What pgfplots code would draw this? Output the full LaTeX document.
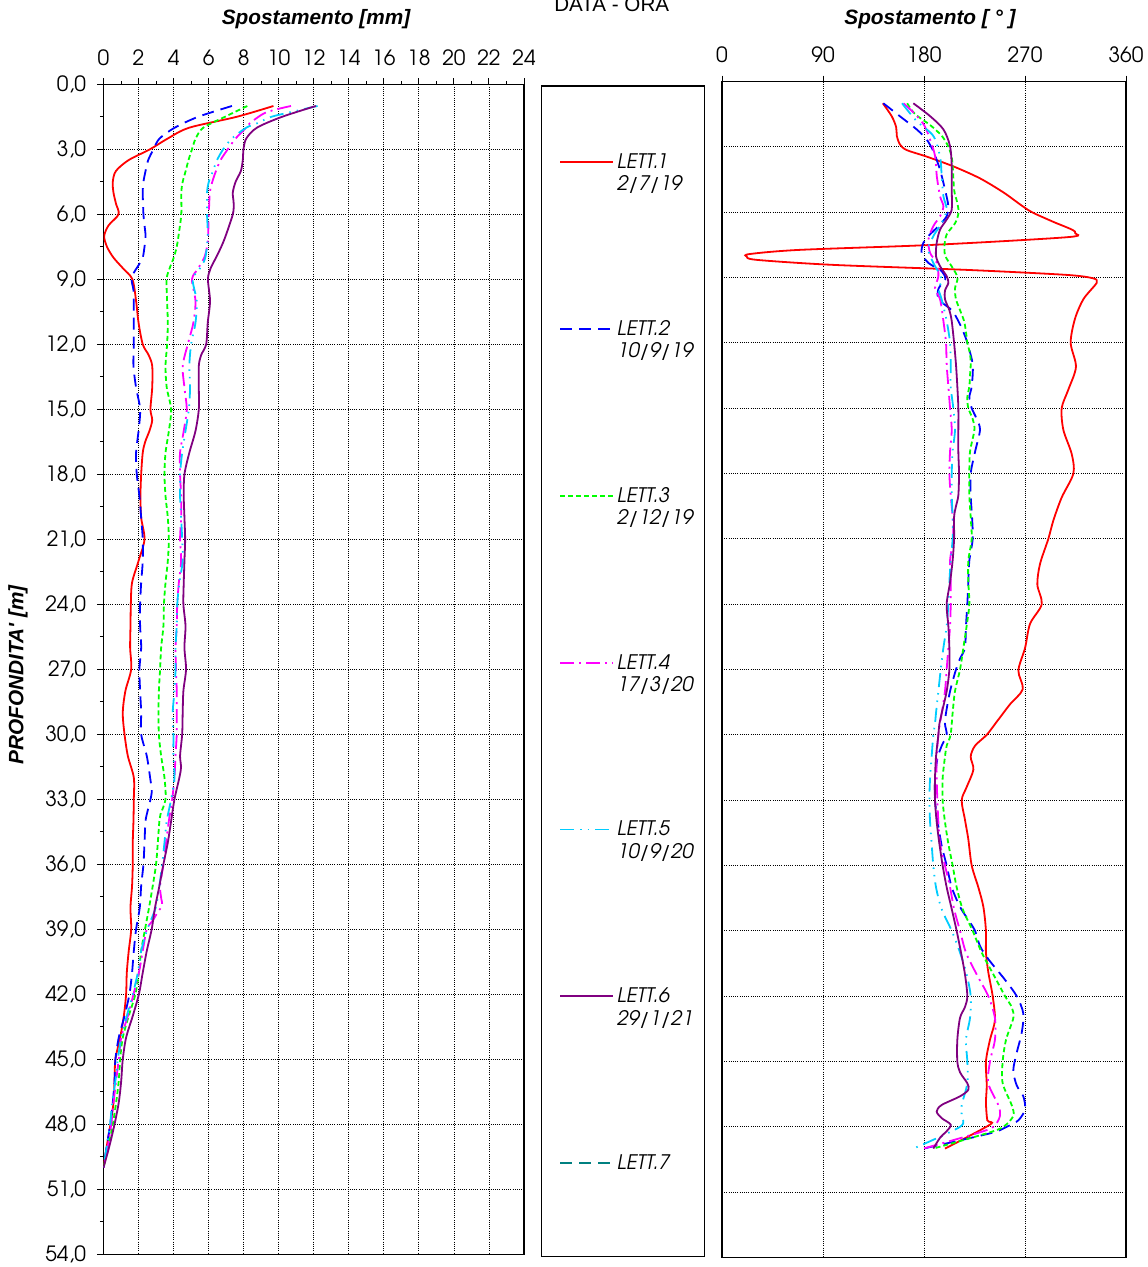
\documentclass[border=0pt]{standalone}
\usepackage{fontspec}
\setmainfont{TeX Gyre Adventor}
\newfontfamily\arialf{Liberation Sans}
\usepackage{pgfplots}
\pgfplotsset{compat=1.18}

\definecolor{cRed}{RGB}{255,0,0}
\definecolor{cBlue}{RGB}{0,0,255}
\definecolor{cGreen}{RGB}{0,255,0}
\definecolor{cMag}{RGB}{255,0,255}
\definecolor{cCyan}{RGB}{0,204,255}
\definecolor{cPurp}{RGB}{128,0,128}
\definecolor{cTeal}{RGB}{0,128,128}

\tikzset{
  lett1/.style={cRed, line width=1.8bp, solid},
  lett2/.style={cBlue, line width=1.8bp, dash pattern=on 12bp off 7bp},
  lett3/.style={cGreen, line width=1.8bp, dash pattern=on 5bp off 3bp},
  lett4/.style={cMag, line width=1.8bp, dash pattern=on 14bp off 5bp on 2bp off 5bp},
  lett5/.style={cCyan, line width=1.8bp, dash pattern=on 14bp off 6bp on 1.5bp off 6bp on 1.5bp off 6bp},
  lett6/.style={cPurp, line width=1.8bp, solid},
  lett7/.style={cTeal, line width=1.8bp, dash pattern=on 12bp off 7bp},
}

\newcommand\tickfont{\fontsize{21bp}{24bp}\selectfont}
\newcommand\legfont{\fontsize{20bp}{22bp}\selectfont\itshape}
\newcommand\titfont{\arialf\bfseries\itshape\fontsize{20.8bp}{24bp}\selectfont}
\newcommand\legtwo[2]{\rlap{\smash{\raisebox{-22.5bp}{#2}}}#1}

\pgfplotsset{
  profile/.style={
    scale only axis, y dir=reverse, ymin=0, ymax=54,
    ytick={0,3,...,54},
    tick align=outside,
    axis line style={black, line width=1.4bp},
    every tick/.style={black, line width=1bp},
    major tick length=6bp, minor tick length=3.5bp,
    grid=major,
    major grid style={black, line width=0.8bp, dash pattern=on 1bp off 1.2bp},
    /pgf/number format/assume math mode=true,
    tick label style={font=\tickfont},
    xticklabel style={yshift=9bp},
    yticklabel style={xshift=-8bp},
    xtick pos=right, xticklabel pos=right,
    ytick pos=left,
    every axis plot/.append style={smooth, tension=0.5},
  },
}

\begin{document}
\begin{tikzpicture}
\useasboundingbox (0,0) rectangle (1148bp,-1267bp);

% ---------------- left panel: displacement ----------------
\begin{axis}[profile,
  at={(103.5bp,-84.3bp)}, anchor=north west,
  width=420.5bp, height=1170bp,
  xmin=0, xmax=24, xtick={0,2,...,24},
  minor x tick num=1, minor y tick num=1,
  y tick label style={/pgf/number format/.cd, fixed, fixed zerofill, precision=1, use comma},
  xlabel={Spostamento [mm]}, ylabel={PROFONDITA' [m]},
  every axis x label/.style={at={(axis description cs:0.5054,1.0515)}, anchor=base, font=\titfont},
  every axis y label/.style={at={(axis description cs:-0.2033,0.4951)}, anchor=center, rotate=90, font=\titfont},
]
\addplot[lett1] coordinates {(9.7,1.0) (7.6,1.5) (4.9,2.0) (3.67,2.5) (2.65,3.0) (1.43,3.5) (0.71,4.0) (0.53,4.5) (0.57,5.0) (0.71,5.5) (0.86,6.0) (0.3,6.5) (0.04,7.0) (0.2,7.5) (0.57,8.0) (1.12,8.5) (1.65,9.0) (1.86,10) (2.0,11) (2.24,12) (2.58,12.5) (2.78,13) (2.78,14) (2.68,15) (2.78,15.5) (2.62,16) (2.38,16.5) (2.24,17) (2.15,18) (2.11,19) (2.15,20) (2.34,21) (2.0,22) (1.63,23) (1.56,24) (1.54,25) (1.52,26) (1.58,27) (1.25,28) (1.10,29) (1.20,30) (1.39,31) (1.73,32) (1.73,33) (1.71,34) (1.67,35) (1.67,36) (1.63,37) (1.54,38) (1.58,39) (1.44,40) (1.33,41) (1.29,42) (1.16,43) (0.95,44) (0.68,45) (0.63,46) (0.57,47) (0.40,48) (0.19,49) (0,50)};
\addplot[lett2] coordinates {(7.33,1.0) (5.4,1.5) (4.07,2.0) (3.2,2.5) (2.85,3.0) (2.55,3.5) (2.4,4.0) (2.28,4.5) (2.24,5.0) (2.28,6.0) (2.34,6.5) (2.4,7.0) (2.34,7.5) (2.24,8.0) (2.04,8.3) (1.73,8.7) (1.6,9.0) (1.71,9.5) (1.73,10) (1.73,11) (1.73,12) (1.71,13) (1.86,14) (2.09,15) (2.0,16) (1.86,17) (1.90,18) (2.05,19) (2.15,20) (2.24,21) (2.24,22) (2.15,23) (2.09,24) (2.09,25) (2.15,26) (2.05,27) (2.09,28) (2.15,29) (2.15,30) (2.47,31) (2.66,32) (2.75,32.7) (2.53,33.5) (2.40,34) (2.34,35) (2.28,36) (2.15,37) (2.07,38) (1.86,39) (1.73,40) (1.63,41) (1.48,42) (1.20,43) (0.87,44) (0.68,45) (0.63,46) (0.53,47) (0.38,48) (0.19,49) (0,50)};
\addplot[lett3] coordinates {(8.21,1.0) (6.93,1.5) (5.7,2.0) (5.26,2.5) (5.05,3.0) (4.85,3.5) (4.69,4.0) (4.52,4.5) (4.44,5.0) (4.44,6.0) (4.28,7.0) (4.18,7.5) (4.01,8.0) (3.77,8.5) (3.6,9.0) (3.63,10) (3.67,11) (3.63,12) (3.54,13) (3.61,14) (3.86,15) (3.73,16) (3.54,17) (3.48,18) (3.54,19) (3.67,20) (3.73,21) (3.67,22) (3.54,23) (3.45,24) (3.42,25) (3.29,26) (3.23,27) (3.16,28) (3.14,29) (3.16,30) (3.29,31) (3.48,32) (3.54,33) (3.25,33.7) (3.19,34) (3.10,35) (3.00,36) (2.81,37) (2.6,38) (2.37,39) (2.15,40) (2.02,41) (1.82,42) (1.44,43) (1.10,44) (0.95,45) (0.87,46) (0.72,47) (0.53,48) (0.29,49) (0,50)};
\addplot[lett4] coordinates {(10.7,1.0) (9.27,1.3) (8.35,1.8) (8.15,2.0) (7.54,2.5) (7.09,3.0) (6.68,3.5) (6.42,4.0) (6.21,4.5) (6.07,5.0) (6.01,6.0) (5.97,7.0) (5.91,7.5) (5.75,8.0) (5.40,8.5) (5.05,9.0) (5.25,10) (5.13,11) (4.81,12) (4.52,13) (4.62,14) (4.75,15) (4.58,16) (4.37,17) (4.37,18) (4.43,19) (4.43,20) (4.37,21) (4.43,22) (4.30,23) (4.21,24) (4.18,25) (4.11,26) (4.14,27) (4.18,28) (4.18,29) (4.18,30) (4.11,31) (4.05,32) (3.92,33) (3.73,34) (3.57,35) (3.42,36) (3.23,37) (3.30,37.6) (3.35,37.9) (3.10,38.2) (2.81,38.6) (2.47,39) (2.24,40) (2.02,41) (1.71,42) (1.39,43) (1.01,44) (0.87,45) (0.72,46) (0.57,47) (0.44,48) (0.25,49) (0,50)};
\addplot[lett5] coordinates {(12.22,1.0) (10.6,1.3) (9.58,1.5) (8.76,1.8) (8.15,2.0) (7.33,2.5) (6.83,3.0) (6.48,3.5) (6.25,4.0) (6.01,4.5) (5.91,5.0) (5.91,6.0) (5.95,7.0) (5.81,8.0) (5.5,8.5) (5.09,9.0) (5.32,10) (5.25,11) (5.0,12) (4.90,13) (4.94,14) (4.87,15) (4.68,16) (4.49,17) (4.37,18) (4.37,19) (4.43,20) (4.49,21) (4.52,22) (4.33,23) (4.21,24) (4.18,25) (4.11,26) (4.11,27) (4.05,28) (3.95,29) (3.99,30) (3.99,31) (4.05,32) (3.86,33) (3.61,34) (3.48,35) (3.35,36) (3.19,37) (2.98,38) (2.5,39) (2.15,40) (1.96,41) (1.67,42) (1.33,43) (1.01,44) (0.82,45) (0.68,46) (0.49,47) (0.38,48) (0.19,49) (0,50)};
\addplot[lett6] coordinates {(12.12,1.0) (10.19,1.5) (8.76,2.0) (8.15,2.5) (7.99,3.0) (7.95,3.5) (7.84,4.0) (7.54,4.5) (7.38,5.0) (7.43,5.5) (7.38,6.0) (6.97,7.0) (6.72,7.5) (6.42,8.0) (6.11,8.5) (5.96,9.0) (6.08,10) (5.95,11) (5.86,12) (5.57,12.5) (5.44,13) (5.44,14) (5.44,15) (5.25,16) (4.90,17) (4.62,18) (4.58,19) (4.62,20) (4.66,21) (4.62,22) (4.58,23) (4.56,24) (4.68,25) (4.62,26) (4.71,27) (4.56,28) (4.52,29) (4.49,30) (4.37,31) (4.43,31.5) (4.33,32) (4.05,33) (3.86,34) (3.67,35) (3.42,36) (3.19,37) (2.94,38) (2.75,39) (2.47,40) (2.24,41) (2.02,42) (1.67,43) (1.29,44) (1.10,45) (1.01,46) (0.87,47) (0.63,48) (0.34,49) (0,50)};
\end{axis}

% ---------------- legend box ----------------
\begin{axis}[
  at={(541.7bp,-86bp)}, anchor=north west, scale only axis,
  width=162.6bp, height=1170.7bp,
  xmin=0, xmax=1, ymin=0, ymax=1, xtick=\empty, ytick=\empty,
  axis line style={black, line width=1.1bp},
  title={DATA - ORA},
  title style={at={(axis description cs:0.4305,1.0581)}, anchor=base, font=\arialf\fontsize{20.6bp}{24bp}\selectfont},
  legend style={at={(axis description cs:0.107,0.9442)}, anchor=north west, draw=none, fill=none,
    inner sep=0pt, row sep=146.5bp, column sep=1.1bp, cells={anchor=base west, inner sep=0pt}, font=\legfont},
  legend image code/.code={\draw[#1] (0bp,6.3bp) -- (53bp,6.3bp);},
]
\addlegendimage{lett1}\addlegendentry{\legtwo{LETT.1}{2/7/19}}
\addlegendimage{lett2}\addlegendentry{\legtwo{LETT.2}{10/9/19}}
\addlegendimage{lett3}\addlegendentry{\legtwo{LETT.3}{2/12/19}}
\addlegendimage{lett4}\addlegendentry{\legtwo{LETT.4}{17/3/20}}
\addlegendimage{lett5}\addlegendentry{\legtwo{LETT.5}{10/9/20}}
\addlegendimage{lett6}\addlegendentry{\legtwo{LETT.6}{29/1/21}}
\addlegendimage{lett7}\addlegendentry{LETT.7}
\end{axis}

% ---------------- right panel: azimuth ----------------
\begin{axis}[profile,
  at={(722bp,-81.5bp)}, anchor=north west,
  width=404bp, height=1176bp,
  xmin=0, xmax=360, xtick={0,90,...,360},
  yticklabel=\empty, ytick style={draw=none},
  xlabel={Spostamento [ ° ]},
  every axis x label/.style={at={(axis description cs:0.5149,1.0489)}, anchor=base, font=\titfont},
]
\addplot[lett1] coordinates {(143.3,1.0) (151.3,1.6) (155.2,2.1) (155.8,2.5) (158.7,2.9) (164.7,3.15) (182.5,3.45) (206.3,3.9) (230,4.45) (251,5.1) (265.8,5.65) (276.2,6.0) (295.5,6.45) (311.8,6.8) (314.8,6.97) (307.4,7.15) (188.5,7.5) (69.6,7.73) (25,7.92) (22,8.04) (31,8.19) (99,8.42) (218,8.65) (307,8.88) (331,9.04) (334,9.19) (332.6,9.34) (322,10.0) (314.5,10.9) (310.7,12.0) (315.4,13.1) (308.6,14.15) (302.7,15.0) (304.2,16) (311.6,17.1) (313.1,18) (302.7,19.1) (295.3,20.15) (290.8,21) (283.4,22.15) (281,23.1) (284.9,24.0) (274.5,24.9) (270.1,26) (264.1,27.05) (268,27.9) (256.6,28.6) (244.8,29.4) (235.9,30) (225.5,30.5) (221.6,31) (224,31.6) (218,32.4) (213.6,33) (216.5,33.9) (219.5,34.8) (222.5,36) (228.4,37) (232.9,37.9) (235.2,39) (235.2,40) (237.3,40.9) (241.2,42) (243.2,43.1) (238.8,44) (235.2,45) (235.9,46.1) (235.2,46.9) (236.4,47.7) (238.8,47.9) (198.7,49.0)};
\addplot[lett2] coordinates {(143.8,1.0) (160.4,1.67) (173.5,2.2) (182.3,2.66) (188.3,3.2) (194.2,4.04) (198.7,4.96) (201.7,5.73) (200.2,6.19) (192.8,6.64) (183.9,7.1) (179.4,7.41) (177.9,7.87) (183.9,8.33) (195.8,8.71) (199,9.1) (193,9.5) (193,10.0) (204.7,10.5) (210.6,11) (215.1,11.5) (218.6,12) (223.4,13) (222.5,14) (220.4,14.5) (222.5,15) (227,15.5) (229.9,16) (225.5,17) (221.6,18) (221.6,19) (222.8,20) (223.4,21) (220.4,22) (219.5,23) (218.6,24) (217.4,25) (216.5,26) (212.1,26.5) (208.5,27) (203.2,28) (199.6,29) (198.7,29.5) (200.2,30) (195.8,30.5) (191.9,31.1) (189.8,32.1) (189.8,33) (191.9,33.9) (195.8,35.1) (200.2,36) (204.7,37) (212.1,37.9) (219.5,38.5) (225.5,39) (229.9,39.7) (237.3,40.3) (252.2,41.25) (262.6,42) (268.5,42.8) (267,43.7) (262.6,44.6) (259.6,45.4) (262.6,46.1) (268.5,46.6) (270,47.2) (264.1,47.7) (253.7,48) (238.8,48.3) (179.4,49.0)};
\addplot[lett3] coordinates {(165,1.0) (172.1,1.5) (185.5,2.0) (195.9,2.5) (201.8,3.0) (204.8,3.5) (205.7,4.0) (206.9,5.0) (209.3,5.5) (210.8,6.0) (207.8,6.5) (200.4,7.0) (198.3,7.5) (198.9,8.0) (204.8,8.5) (209.9,9.0) (207.6,9.5) (208.5,10) (212.1,10.5) (215.7,11) (217.4,11.5) (218.6,12) (221,12.5) (221.6,13) (221,13.5) (220.4,14) (218.6,14.5) (219.5,15) (223.4,15.5) (224.9,16) (221,17) (220.4,18) (220.4,19) (221.6,20) (222.5,21) (219.5,22) (219.5,23) (220.4,24) (218,25) (215.1,26) (212.1,27) (207.6,28) (205.5,29) (203.7,30) (200.2,30.5) (198.7,31) (196.6,32) (196.6,33) (198.7,34) (201.7,35) (205.5,36) (209.1,37) (214.4,38) (223.4,39) (231.4,40) (241.8,41) (252.2,42) (258.1,42.5) (259.6,43) (253.1,44) (250.1,45) (250.1,46) (258.1,47) (259.6,47.5) (250.7,48) (235.9,48.3) (188.3,49.0)};
\addplot[lett4] coordinates {(161.7,1.0) (172.1,1.5) (180.1,2.0) (185.4,2.66) (189.9,3.43) (191.4,4.35) (194.3,5.27) (197.3,5.73) (194.3,6.19) (188.3,6.64) (183.9,7.26) (185.4,7.87) (191.4,8.33) (192.8,8.94) (189.8,9.5) (194.3,10) (197.3,11) (199.6,12) (200.2,13) (201.7,14) (203.2,15) (204.7,16) (203.2,17) (202.6,18) (203.8,19) (205.5,20) (206.1,21) (203.2,22) (203.8,23) (203.8,24) (203.2,25) (201.7,26) (200.2,27) (198.7,28) (195.8,29) (193.5,29.7) (192.8,30) (191.3,31) (191.3,32) (191.9,33) (192.8,34) (194.3,35) (198.7,36) (203.2,37) (206.8,38) (212.1,39) (217.4,40) (226.9,41) (237.3,42) (243.2,43) (243.2,44) (238.8,45) (237.3,46) (246.2,47) (247.7,47.5) (241.8,48) (226.9,48.3) (179.4,49.0)};
\addplot[lett5] coordinates {(160.4,1.0) (173.5,1.82) (188.3,2.5) (194.2,3.43) (195.8,4.35) (197.3,5.27) (200.2,5.88) (195.8,6.5) (188.3,7.1) (183.9,7.72) (188.3,8.33) (194.2,8.87) (195.8,9.2) (192.8,9.5) (195.7,10) (200.2,11) (203.2,12) (203.8,13) (203.8,14) (206.1,15) (207.6,16) (205.5,17) (204.7,18) (204.7,19) (205.5,20) (205.5,21) (203.8,22) (202.6,23) (201.7,24) (200.2,25) (197.3,26) (194.9,27) (192.8,28) (190.7,29) (189.8,29.5) (188.3,30) (186.8,31) (185.4,32) (184.8,33) (185.4,34) (186.8,35) (188.3,36) (190.7,37) (195.7,38) (204.7,39) (212.1,40) (218,41) (221.6,42) (221,43) (217.4,44) (218.6,45) (218.6,46) (213.6,47) (213.6,47.5) (212.1,48) (170.5,49.0)};
\addplot[lett6] coordinates {(170.5,1.0) (185.4,1.59) (197.3,2.2) (203.2,2.97) (204.7,3.89) (204.7,4.96) (204.7,5.88) (200.2,6.34) (194.3,6.8) (191.3,7.41) (190.7,8.02) (194.3,8.48) (200.2,8.94) (201.7,9.25) (198.7,9.6) (198.7,10) (202.6,10.5) (204.7,11) (206.8,12) (208.5,13) (209.7,14) (210.6,15) (210.6,16) (210.6,17) (211.2,18) (210.6,19) (208.5,19.5) (206.8,20) (206.8,21) (205.5,22) (203.2,23) (200.2,24) (201.7,25) (202.6,26) (202.6,27) (200.2,28) (195.8,29) (193.7,29.5) (192.8,30) (190.7,31) (189.8,32) (189.8,33) (191.3,34) (193.7,35) (196.6,36) (200.2,37) (204.7,38) (209.1,39) (213,40) (216.5,41) (218.6,42) (216.5,42.5) (212.1,43) (209.7,44) (209.7,45) (212.1,45.5) (218.6,46) (219.5,46.3) (212.1,46.6) (195.7,47) (191.3,47.3) (195.7,47.6) (203.8,47.9) (200.2,48.2) (194.3,48.5) (188.3,49.0)};
\end{axis}
\end{tikzpicture}
\end{document}
